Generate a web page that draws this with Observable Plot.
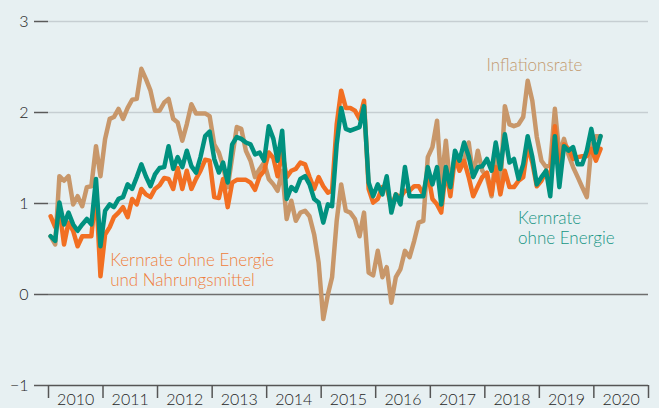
<!DOCTYPE html>
<html><head><meta charset="utf-8">
<script src="https://cdn.jsdelivr.net/npm/d3@7"></script>
<script src="https://cdn.jsdelivr.net/npm/@observablehq/plot@0.6"></script>
<style>
html,body{margin:0;padding:0;background:#e7f0f2;}
#chart{width:659px;height:408px;}
</style></head><body><div id="chart"></div>
<script>
const startYear = 2010;
const yearLabels = [2010,2011,2012,2013,2014,2015,2016,2017,2018,2019,2020];
const yTicks = [-1,0,1,2,3];

const inflationsrate = [
 0.64,0.55,1.30,1.25,1.30,0.99,1.08,0.97,1.18,1.19,1.63,1.30,
 1.71,1.93,1.95,2.04,1.93,2.05,2.14,2.15,2.48,2.37,2.24,2.02,
 2.02,2.11,2.15,1.93,1.89,1.69,1.87,2.09,1.99,1.99,1.99,1.96,
 1.65,1.56,1.41,1.18,1.51,1.84,1.82,1.58,1.47,1.29,1.38,1.45,
 1.27,1.21,1.14,1.36,0.83,1.03,0.81,0.90,0.92,0.86,0.66,0.35,
 -0.27,0.00,0.19,0.81,1.21,0.92,0.90,0.83,0.64,0.90,0.24,0.21,
 0.48,0.19,0.30,-0.09,0.19,0.28,0.48,0.41,0.59,0.79,0.81,1.51,
 1.62,1.91,1.21,1.69,1.18,1.54,1.38,1.47,1.67,1.30,1.58,1.36,
 1.29,1.08,1.54,1.18,2.07,1.87,1.85,1.87,1.95,2.35,2.13,1.73,
 1.47,1.40,1.43,2.04,1.54,1.71,1.54,1.40,1.29,1.18,1.07,1.62,
 1.74,1.74
];
const kernrateOhneEnergie = [
 0.64,0.59,1.01,0.77,0.90,0.77,0.70,0.77,0.83,0.77,1.27,0.53,
 0.92,0.99,0.96,1.05,1.07,1.21,1.16,1.29,1.43,1.30,1.19,1.32,
 1.39,1.40,1.63,1.38,1.51,1.40,1.58,1.41,1.34,1.51,1.74,1.79,
 1.49,1.34,1.45,1.23,1.65,1.73,1.71,1.67,1.65,1.54,1.56,1.47,
 1.85,1.71,1.47,1.80,1.05,1.18,1.14,1.27,1.30,1.21,1.05,1.01,
 0.79,0.99,0.97,1.65,2.05,1.82,1.80,1.82,1.84,2.07,1.23,1.08,
 1.21,1.10,1.30,0.90,1.10,0.99,1.40,1.08,1.08,1.08,1.08,1.40,
 1.21,1.40,0.99,1.40,1.18,1.58,1.47,1.67,1.52,1.29,1.40,1.41,
 1.49,1.36,1.67,1.38,1.76,1.45,1.49,1.27,1.43,1.74,1.51,1.21,
 1.29,1.36,1.08,1.74,1.18,1.63,1.58,1.62,1.43,1.43,1.58,1.82,
 1.56,1.74
];
const kernrateOhneEnergieNahrung = [
 0.86,0.74,0.94,0.55,0.79,0.70,0.53,0.64,0.64,0.64,1.15,0.20,
 0.66,0.74,0.85,0.90,0.96,0.85,1.05,0.99,1.16,1.10,1.07,1.16,
 1.20,1.28,1.27,1.16,1.39,1.16,1.36,1.16,1.27,1.36,1.48,1.47,
 1.07,1.06,1.27,0.96,1.23,1.26,1.26,1.26,1.23,1.15,1.30,1.36,
 1.56,1.50,1.30,1.56,1.29,1.36,1.38,1.45,1.43,1.29,1.16,1.29,
 1.19,1.12,1.14,1.87,2.24,2.05,2.05,2.02,1.93,2.13,1.16,1.01,
 1.05,1.18,1.18,0.96,1.10,1.07,1.14,1.14,1.19,1.19,1.10,1.34,
 1.05,0.99,0.90,1.38,1.08,1.51,1.36,1.47,1.29,1.08,1.19,1.29,
 1.34,1.10,1.40,1.10,1.36,1.18,1.18,1.25,1.29,1.63,1.45,1.19,
 1.25,1.36,1.25,1.85,1.36,1.65,1.60,1.49,1.51,1.52,1.52,1.60,
 1.47,1.60
];

const colInfl = "#c8976a", colTeal = "#00917f", colOrange = "#f26f22";

const monthDate = i => new Date(Date.UTC(startYear, i, 15));
const yd = f => new Date(Date.UTC(startYear, 0, 1) + (f - startYear) * 365.25 * 864e5);
const toRows = arr => arr.map((v, i) => ({date: monthDate(i), value: v}));

const yearStarts = [...yearLabels, yearLabels[yearLabels.length - 1] + 1].map(y => new Date(Date.UTC(y, 0, 1)));
const yearMids = yearLabels.map(y => new Date(Date.UTC(y, 6, 2)));

const lineOpts = {x: "date", y: "value", strokeWidth: 4.5, strokeLinejoin: "round", strokeLinecap: "round"};

const chart = Plot.plot({
  width: 659, height: 408,
  marginLeft: 48, marginRight: 11, marginTop: 21, marginBottom: 23,
  style: {background: "#e7f0f2", fontFamily: "Lato, 'Open Sans', sans-serif", fontSize: "16px", fontWeight: 300, color: "#262626"},
  x: {type: "utc", domain: [yearStarts[0], yearStarts[yearStarts.length - 1]]},
  y: {domain: [-1, 3]},
  marks: [
    Plot.ruleY(yTicks.filter(d => d > 0), {stroke: "#c6ced2", strokeWidth: 1.5}),
    Plot.ruleY([0], {stroke: "#6e6e6e", strokeWidth: 1.5}),
    Plot.ruleY([-1], {stroke: "#555", strokeWidth: 1.5}),
    Plot.axisY({ticks: yTicks, tickSize: 14, tickPadding: 6, strokeWidth: 1.5, stroke: "#5a5a5a",
      tickFormat: d => d < 0 ? "\u2212" + Math.abs(d) : String(d)}),
    Plot.axisX({ticks: yearStarts, tickSize: 13, tickFormat: () => "", stroke: "#555", strokeWidth: 1.5}),
    Plot.axisX({ticks: yearMids, tickSize: 0, tickPadding: 8, tickFormat: d => String(d.getUTCFullYear())}),
    Plot.line(toRows(inflationsrate), {...lineOpts, stroke: colInfl}),
    Plot.line(toRows(kernrateOhneEnergieNahrung), {...lineOpts, stroke: colOrange}),
    Plot.line(toRows(kernrateOhneEnergie), {...lineOpts, stroke: colTeal}),
    Plot.text([{x: yd(2018.03), y: 2.52, t: "Inflationsrate"}],
      {x: "x", y: "y", text: "t", textAnchor: "start", lineAnchor: "middle", fontSize: 17, fill: "#c39a6f"}),
    Plot.text([{x: yd(2018.61), y: 0.924, t: "Kernrate\nohne Energie"}],
      {x: "x", y: "y", text: "t", textAnchor: "start", lineAnchor: "top", lineHeight: 1.15, fontSize: 17, fill: "#179584"}),
    Plot.text([{x: yd(2011.13), y: 0.465, t: "Kernrate ohne Energie\nund Nahrungsmittel"}],
      {x: "x", y: "y", text: "t", textAnchor: "start", lineAnchor: "top", lineHeight: 1.15, fontSize: 17, fill: "#ef7d3a"})
  ]
});
document.getElementById("chart").appendChild(chart);
</script></body></html>
